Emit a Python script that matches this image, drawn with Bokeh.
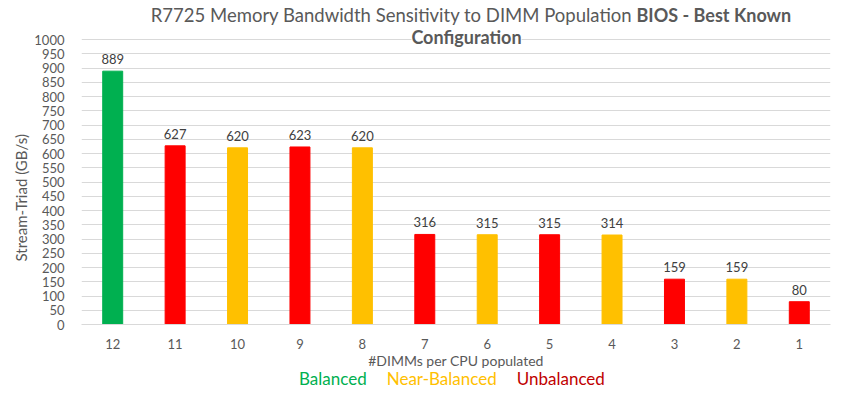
from bokeh.plotting import figure
from bokeh.layouts import column
from bokeh.models import (FactorRange, Range1d, Label, FixedTicker, ColumnDataSource, LabelSet, Div, Title)
from bokeh.embed import file_html
from bokeh.resources import INLINE
from bokeh.core.properties import value

dimms = ["12", "11", "10", "9", "8", "7", "6", "5", "4", "3", "2", "1"]
bandwidth = [889, 627, 620, 623, 620, 316, 315, 315, 314, 159, 159, 80]
balance = ["Balanced", "Unbalanced", "Near-Balanced", "Unbalanced", "Near-Balanced", "Unbalanced",
           "Near-Balanced", "Unbalanced", "Near-Balanced", "Unbalanced", "Near-Balanced", "Unbalanced"]
palette = {"Balanced": "#00B050", "Near-Balanced": "#FFC000", "Unbalanced": "#FF0000"}
legend_colors = {"Balanced": "#00B050", "Near-Balanced": "#FFC000", "Unbalanced": "#C00000"}
y_ticks = list(range(0, 1001, 50))

FONT = "Lato"
GRAY = "#595959"

src = ColumnDataSource(dict(x=dimms, y=bandwidth, c=[palette[b] for b in balance],
                            t=[str(v) for v in bandwidth]))

# the frame reaches the canvas top so that the title labels are drawn inside it
p = figure(width=834, height=371, x_range=FactorRange(factors=dimms), y_range=Range1d(0, 1137),
           output_backend="svg", toolbar_location=None,
           min_border_left=81, min_border_right=4, min_border_top=0, min_border_bottom=43)
p.outline_line_color = None
p.background_fill_color = "white"

p.vbar(x="x", top="y", width=0.32, color="c", source=src)
p.add_layout(LabelSet(x="x", y="y", text="t", source=src, y_offset=7, text_align="center",
                      text_baseline="bottom", text_font=value(FONT), text_font_size=value("13px"),
                      text_color="#404040"))

p.xgrid.grid_line_color = None
p.ygrid.grid_line_color = "#d9d9d9"
p.yaxis.ticker = FixedTicker(ticks=y_ticks)
p.yaxis.axis_line_color = None
p.yaxis.major_tick_line_color = None
p.yaxis.minor_tick_line_color = None
p.yaxis.major_label_standoff = 11
p.yaxis.major_label_text_font = FONT
p.yaxis.major_label_text_font_size = "13px"
p.yaxis.major_label_text_color = GRAY

p.add_layout(Title(text="Stream-Triad (GB/s)", align="left", offset=63, standoff=4,
                   text_font=FONT, text_font_size="15px", text_font_style="normal",
                   text_color=GRAY), "left")

p.xaxis.axis_line_color = "#d9d9d9"
p.xaxis.major_tick_line_color = None
p.xaxis.minor_tick_line_color = None
p.xaxis.major_label_standoff = 8
p.xaxis.major_label_text_font = FONT
p.xaxis.major_label_text_font_size = "13px"
p.xaxis.major_label_text_color = GRAY
p.xaxis.axis_label = "#DIMMs per CPU populated"
p.xaxis.axis_label_text_font = FONT
p.xaxis.axis_label_text_font_size = "14px"
p.xaxis.axis_label_text_font_style = "normal"
p.xaxis.axis_label_text_color = GRAY
p.xaxis.axis_label_standoff = 0


def lab(x, y, text, color=GRAY, size="18px", style="normal", align="left", bg=None):
    p.add_layout(Label(x=x, y=y, x_units="canvas", y_units="canvas", text=text,
                       text_font=FONT, text_font_size=size, text_font_style=style,
                       text_color=color, text_align=align, text_baseline="middle",
                       background_fill_color=bg))


lab(632, 14, "R7725 Memory Bandwidth Sensitivity to DIMM Population", size="18.5px", align="right")
lab(636, 14, "BIOS - Best Known", style="bold")
lab(466, 36, "Configuration", style="bold", align="center", bg="white")

spans = "".join(
    f'<span style="color:{c};margin-right:20px">{name}</span>' for name, c in legend_colors.items())
legend_div = Div(text=f'<div style="position:relative;top:-4px;padding-left:294px;font-family:{FONT};'
                      f'font-size:17px;line-height:14px;white-space:nowrap">{spans}</div>',
                 width=834, height=20)

layout = column(p, legend_div, spacing=0)
open("out.html", "w").write(file_html(layout, INLINE))
